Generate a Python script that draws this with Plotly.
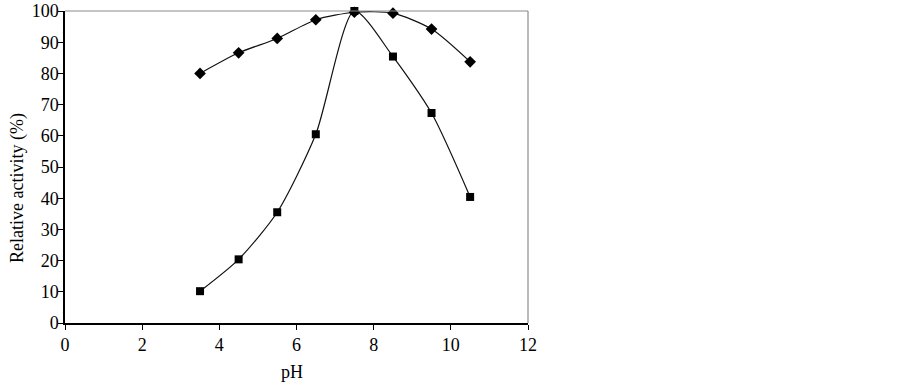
import plotly.graph_objects as go

ph = [3.5, 4.5, 5.5, 6.5, 7.5, 8.5, 9.5, 10.5]
activity_diamond = [80, 86.6, 91.2, 97.2, 99.6, 99.3, 94.2, 83.7]
activity_square = [10.2, 20.4, 35.5, 60.5, 100, 85.4, 67.3, 40.4]
x_ticks = [0, 2, 4, 6, 8, 10, 12]
y_ticks = [0, 10, 20, 30, 40, 50, 60, 70, 80, 90, 100]

fig = go.Figure()
fig.add_trace(go.Scatter(
    x=ph, y=activity_diamond, mode="lines+markers",
    line=dict(color="#111111", width=1.2, shape="spline", smoothing=0.7),
    marker=dict(symbol="diamond", size=9, color="black"),
    showlegend=False, cliponaxis=False))
fig.add_trace(go.Scatter(
    x=ph, y=activity_square, mode="lines+markers",
    line=dict(color="#111111", width=1.2, shape="spline", smoothing=0.7),
    marker=dict(symbol="square", size=8, color="black"),
    showlegend=False, cliponaxis=False))

font = dict(family="Liberation Serif, Times New Roman, serif", size=18, color="black")
fig.update_layout(
    width=903, height=384,
    margin=dict(l=65, r=375, t=10.5, b=60.5),
    paper_bgcolor="white", plot_bgcolor="white",
    font=font,
    xaxis=dict(range=[0, 12], tickvals=x_ticks, ticks="outside", ticklen=5,
               tickcolor="black", showline=True, linecolor="black", linewidth=1.5,
               mirror=False, showgrid=False, zeroline=False, automargin=False,
               tickfont=font),
    yaxis=dict(range=[0, 100], tickvals=y_ticks, ticks="outside", ticklen=5,
               tickcolor="black", showline=True, linecolor="black", linewidth=1.5,
               showgrid=False, zeroline=False, automargin=False,
               ticklabelstandoff=-4, tickfont=font),
    annotations=[
        dict(text="pH", xref="paper", yref="paper", x=0.491, y=-0.158,
             xanchor="center", yanchor="middle", showarrow=False, font=font),
        dict(text="Relative activity (%)", xref="paper", yref="paper", x=-0.1015, y=0.433,
             xanchor="center", yanchor="middle", textangle=-90, showarrow=False, font=font),
    ],
)
# gray top and right frame
fig.add_shape(type="line", xref="paper", yref="paper", x0=0, x1=1, y0=1, y1=1,
              line=dict(color="#8c8c8c", width=1.2))
fig.add_shape(type="line", xref="paper", yref="paper", x0=1, x1=1, y0=0, y1=1,
              line=dict(color="#8c8c8c", width=1.2))

fig.write_html("out.html", config={"displayModeBar": False},
               post_script="document.body.style.margin='0';")
